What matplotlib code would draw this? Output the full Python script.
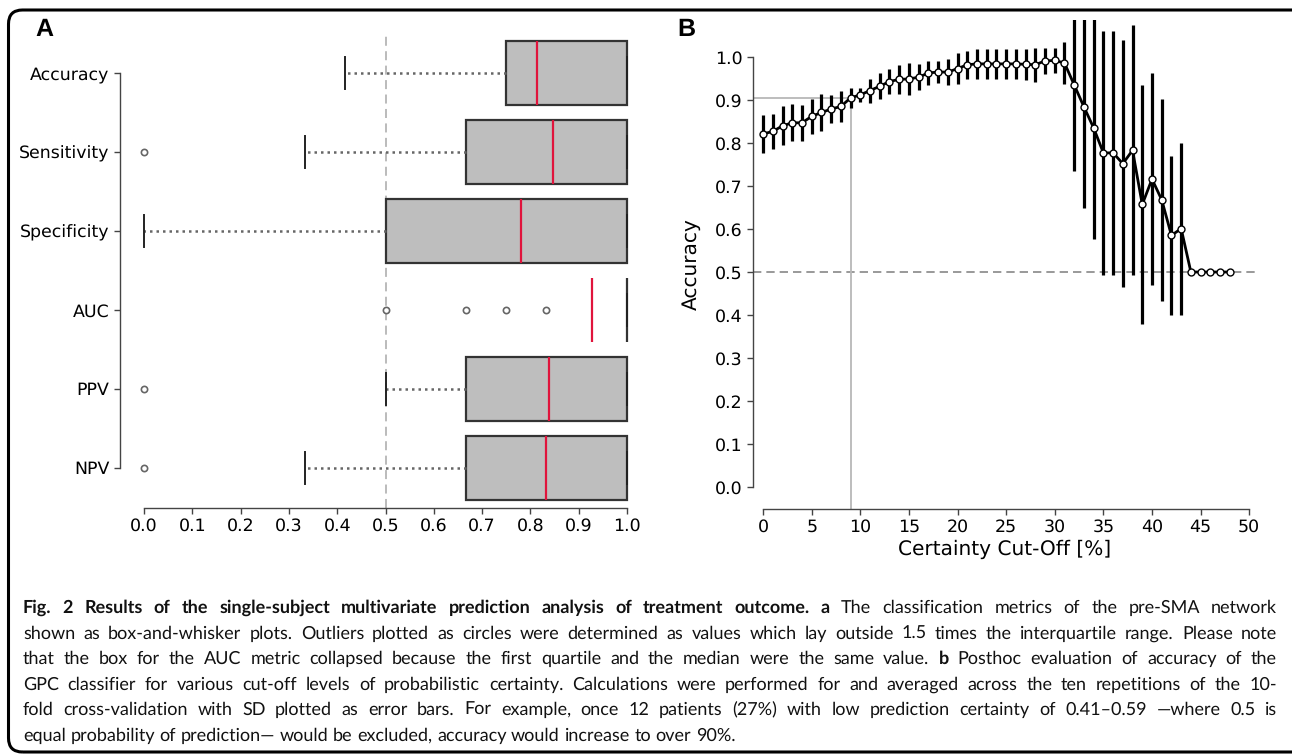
import matplotlib
matplotlib.use("Agg")
import matplotlib.pyplot as plt
import numpy as np
from matplotlib.patches import FancyBboxPatch
from matplotlib.transforms import IdentityTransform

# ---------------- data: panel A (box-and-whisker stats) ----------------
metrics = ["Accuracy", "Sensitivity", "Specificity", "AUC", "PPV", "NPV"]
whisker_low = [0.417, 0.333, 0.0, 1.0, 0.5, 0.333]
quartile_1 = [0.75, 0.667, 0.5, 1.0, 0.667, 0.667]
medians = [0.813, 0.848, 0.780, 0.928, 0.839, 0.833]
quartile_3 = [1.0, 1.0, 1.0, 1.0, 1.0, 1.0]
whisker_high = [1.0, 1.0, 1.0, 1.0, 1.0, 1.0]
outliers = [[], [0.0], [], [0.5, 0.667, 0.75, 0.833], [0.0], [0.0]]
chance_level = 0.5

# ---------------- data: panel B (accuracy vs certainty cut-off) ----------------
cutoff = list(range(0, 49))
acc_mean = [0.821, 0.827, 0.840, 0.847, 0.847, 0.862, 0.871, 0.879, 0.885, 0.905,
            0.912, 0.922, 0.932, 0.943, 0.948, 0.949, 0.953, 0.963, 0.965, 0.965,
            0.973, 0.982, 0.984, 0.984, 0.984, 0.984, 0.984, 0.983, 0.982, 0.991,
            0.992, 0.986, 0.935, 0.884, 0.835, 0.777, 0.777, 0.752, 0.783, 0.657,
            0.716, 0.668, 0.585, 0.601, 0.5, 0.5, 0.5, 0.5, 0.5]
acc_sd = [0.045, 0.041, 0.045, 0.043, 0.042, 0.040, 0.044, 0.033, 0.037, 0.023,
          0.017, 0.028, 0.030, 0.028, 0.033, 0.037, 0.030, 0.028, 0.026, 0.031,
          0.036, 0.032, 0.034, 0.034, 0.034, 0.034, 0.034, 0.036, 0.039, 0.030,
          0.029, 0.049, 0.200, 0.235, 0.259, 0.284, 0.284, 0.288, 0.291, 0.277,
          0.246, 0.235, 0.185, 0.200, 0.0, 0.0, 0.0, 0.0, 0.0]
ref_cutoff = 9
ref_accuracy = 0.905

caption_lines = [
    [("Fig. 2 Results of the single-subject multivariate prediction analysis of treatment outcome. a", "bold"),
     ("The classification metrics of the pre-SMA network", "normal")],
    [("shown as box-and-whisker plots. Outliers plotted as circles were determined as values which lay outside 1.5 times the interquartile range. Please note", "normal")],
    [("that the box for the AUC metric collapsed because the first quartile and the median were the same value.", "normal"),
     ("b", "bold"), ("Posthoc evaluation of accuracy of the", "normal")],
    [("GPC classifier for various cut-off levels of probabilistic certainty. Calculations were performed for and averaged across the ten repetitions of the 10-", "normal")],
    [("fold cross-validation with SD plotted as error bars. For example, once 12 patients (27%) with low prediction certainty of 0.41\u20130.59 \u2014where 0.5 is", "normal")],
    [("equal probability of prediction\u2014 would be excluded, accuracy would increase to over 90%.", "normal")],
]

W, H = 1292, 755
plt.rcParams['font.family'] = 'DejaVu Sans'
plt.rcParams['text.hinting'] = 'no_hinting'
fig = plt.figure(figsize=(W / 100, H / 100), dpi=100)


def fx(px):
    return px / W


def fy(py):
    return 1 - py / H


SPINE = '#444444'

# ---------------- panel A ----------------
axA = fig.add_axes([fx(120), fy(507.5), fx(651) - fx(120), fy(33.5) - fy(507.5)])
stats = []
for i, name in enumerate(metrics):
    stats.append(dict(label=name, whislo=whisker_low[i], q1=quartile_1[i], med=medians[i],
                      q3=quartile_3[i], whishi=whisker_high[i], fliers=outliers[i]))
axA.axvline(chance_level, color='#b5b5b5', lw=1.3, ls=(0, (5, 3)), zorder=0)
axA.bxp(stats, positions=list(range(len(metrics))), orientation='horizontal', widths=0.8,
        patch_artist=True, capwidths=0.4,
        boxprops=dict(facecolor='#bebebe', edgecolor='#333333', linewidth=1.6),
        medianprops=dict(color='#e0143c', linewidth=1.6),
        whiskerprops=dict(color='#666666', linewidth=1.8, linestyle=(0, (1, 1.6))),
        capprops=dict(color='#222222', linewidth=1.4),
        flierprops=dict(marker='o', markerfacecolor='white', markeredgecolor='#666666',
                        markersize=4.5, markeredgewidth=1.2))
axA.set_ylim(5.5, -0.5)
axA.set_xlim(-0.05, 1.05)
axA.set_xticks(np.arange(0, 1.01, 0.1))
axA.set_xticklabels([f"{v:.1f}" for v in np.arange(0, 1.01, 0.1)], family='DejaVu Sans')
axA.set_yticks(range(len(metrics)))
axA.set_yticklabels(metrics, family='DejaVu Sans')
axA.tick_params(labelsize=12.5, length=4, color=SPINE, width=1)
for s in ['top', 'right']:
    axA.spines[s].set_visible(False)
axA.spines['left'].set_bounds(0, len(metrics) - 1)
axA.spines['bottom'].set_bounds(0, 1)
for s in ['left', 'bottom']:
    axA.spines[s].set_color(SPINE)
    axA.spines[s].set_linewidth(1)

# ---------------- panel B ----------------
axB = fig.add_axes([fx(753), fy(508.5), fx(1256.5) - fx(753), fy(19.6) - fy(508.5)])
axB.axhline(0.5, color='#888888', lw=1.2, ls=(0, (5, 3)), zorder=1)
axB.plot([-1.04, ref_cutoff], [ref_accuracy, ref_accuracy], color='#b8b8b8', lw=1.3, zorder=1)
axB.plot([ref_cutoff, ref_cutoff], [-0.05, ref_accuracy], color='#b8b8b8', lw=1.3, zorder=1)
axB.errorbar(cutoff, acc_mean, yerr=acc_sd, fmt='none', ecolor='black', elinewidth=2.3,
             capsize=0, zorder=2)
axB.plot(cutoff, acc_mean, color='black', lw=2.0, marker='o', markersize=5,
         markerfacecolor='white', markeredgecolor='black', markeredgewidth=1.0, zorder=3)
axB.set_xlim(-1.04, 50.75)
axB.set_ylim(-0.05, 1.087)
axB.set_xticks(range(0, 51, 5))
axB.set_xticklabels([str(v) for v in range(0, 51, 5)], family='DejaVu Sans')
axB.set_yticks(np.arange(0, 1.01, 0.1))
axB.set_yticklabels([f"{v:.1f}" for v in np.arange(0, 1.01, 0.1)], family='DejaVu Sans')
axB.tick_params(labelsize=12.5, length=4, color=SPINE, width=1)
axB.set_xlabel("Certainty Cut-Off [%]", fontsize=14.5, labelpad=3, family='DejaVu Sans')
axB.set_ylabel("Accuracy", fontsize=14.5, labelpad=10, family='DejaVu Sans')
for s in ['top', 'right']:
    axB.spines[s].set_visible(False)
axB.spines['left'].set_bounds(0, 1)
axB.spines['bottom'].set_bounds(0, 50)
for s in ['left', 'bottom']:
    axB.spines[s].set_color(SPINE)
    axB.spines[s].set_linewidth(1)

# panel letters
fig.text(fx(44), fy(29.5), "A", fontsize=18, fontweight='bold', family='Liberation Sans',
         ha='center', va='center')
fig.text(fx(686), fy(29.5), "B", fontsize=18, fontweight='bold', family='Liberation Sans',
         ha='center', va='center')

# frame
frame = FancyBboxPatch((8.5, 3), 1300, 742, boxstyle="round,pad=0,rounding_size=14",
                       transform=IdentityTransform(), fill=False, edgecolor='black',
                       linewidth=2.2, figure=fig)
fig.patches.append(frame)

# ---------------- caption (justified) ----------------
renderer = fig.canvas.get_renderer()
left_px, right_px = 23, 1277
line_base = [613, 638.5, 664, 689.5, 715, 740.5]
cap_font = 'Lato'


def words_of(line):
    out = []
    for seg, weight in line:
        for w in seg.split(' '):
            if w:
                out.append((w, weight))
    return out


def measure(txt, size, weight='normal'):
    t = fig.text(0, 0, txt, fontsize=size, family=cap_font, fontweight=weight)
    w = t.get_window_extent(renderer).width
    t.remove()
    return w


size = 13.0
line_sizes = []
for li, line in enumerate(caption_lines):
    ws = words_of(line)
    sp = measure("a a", size) - 2 * measure("a", size)
    tot = sum(measure(w, size, wt) for w, wt in ws) + sp * 0.85 * (len(ws) - 1)
    s = size
    if li < len(caption_lines) - 1 and tot > right_px - left_px:
        s = size * (right_px - left_px) / tot
    line_sizes.append(s)
common = min(line_sizes[1:5])
line_sizes = [min(common, s) for s in line_sizes]

for li, line in enumerate(caption_lines):
    s = line_sizes[li]
    ws = words_of(line)
    texts = []
    widths = []
    for w, wt in ws:
        t = fig.text(0, fy(line_base[li]), w, fontsize=s, family=cap_font, fontweight=wt,
                     va='baseline', ha='left', color='#111111')
        texts.append(t)
        widths.append(t.get_window_extent(renderer).width)
    if li < len(caption_lines) - 1 and len(ws) > 1:
        gap = (right_px - left_px - sum(widths)) / (len(ws) - 1)
    else:
        gap = measure("a a", s) - 2 * measure("a", s)
    x = left_px
    for t, w in zip(texts, widths):
        t.set_x(fx(x))
        x += w + gap

fig.savefig("out.png", dpi=100)
